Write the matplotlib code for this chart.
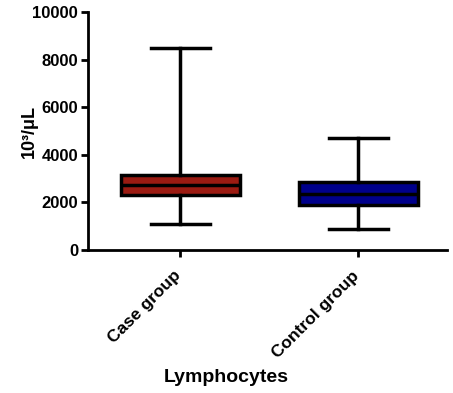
import matplotlib.pyplot as plt
from matplotlib.transforms import ScaledTranslation

plt.rcParams['font.family'] = ['Liberation Sans', 'DejaVu Sans']
plt.rcParams['font.weight'] = 'bold'

groups = ['Case group', 'Control group']
whislo = [1080, 880]
q1 = [2310, 1890]
med = [2730, 2350]
q3 = [3150, 2840]
whishi = [8500, 4690]
colors = ['#9b1b12', '#00008b']

stats = []
for i in range(len(groups)):
    stats.append(dict(label=groups[i], whislo=whislo[i], q1=q1[i], med=med[i],
                      q3=q3[i], whishi=whishi[i], fliers=[]))

fig = plt.figure(figsize=(4.53, 3.93), dpi=100)
ax = fig.add_axes([0.194, 0.364, 0.793, 0.605])

bp = ax.bxp(stats, positions=[1, 2], widths=0.67, patch_artist=True, showfliers=False,
            boxprops=dict(linewidth=2.5, edgecolor='black'),
            medianprops=dict(linewidth=2.5, color='black'),
            whiskerprops=dict(linewidth=2.5, color='black'),
            capprops=dict(linewidth=2.5, color='black'),
            capwidths=0.33)
for patch, c in zip(bp['boxes'], colors):
    patch.set_facecolor(c)

ax.set_xlim(0.48, 2.5)
ax.set_ylim(0, 10000)
ax.set_yticks([0, 2000, 4000, 6000, 8000, 10000])
ax.spines['top'].set_visible(False)
ax.spines['right'].set_visible(False)
ax.spines['left'].set_linewidth(2)
ax.spines['bottom'].set_linewidth(2)
ax.tick_params(width=2, length=5, labelsize=12)
ax.tick_params(axis='y', pad=2)
ax.tick_params(axis='x', pad=8)
ax.set_xticks([1, 2])
ax.set_xticklabels(groups, rotation=45, ha='right', rotation_mode='anchor', fontsize=12.5)
shift = ScaledTranslation(-7 / 100, 0, fig.dpi_scale_trans)
for lbl in ax.get_xticklabels():
    lbl.set_transform(lbl.get_transform() + shift)
ax.set_ylabel('10³/μL', fontsize=13, fontweight='bold')
ax.yaxis.set_label_coords(-0.138, 0.5)
ax.set_xlabel('Lymphocytes', fontsize=14, fontweight='bold')
ax.xaxis.set_label_coords(0.384, -0.50)

fig.savefig('out.png', dpi=100)
